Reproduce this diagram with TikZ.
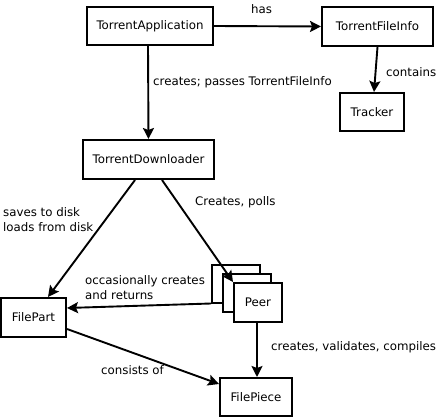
\documentclass[tikz,border=0pt]{standalone}
\usepackage{fontspec}
\setmainfont{DejaVu Sans}
\usetikzlibrary{arrows.meta}
\begin{document}
\begin{tikzpicture}[x=1pt,y=-1pt,
  box/.style={draw,line width=2pt,fill=white,inner sep=0pt,font=\fontsize{11.8}{14}\selectfont},
  lbl/.style={inner sep=0pt,anchor=west,align=left,font=\fontsize{11.8}{15.5}\selectfont},
  arr/.style={line width=1.9pt,-{Stealth[length=11pt,width=11pt,inset=2pt]}}]
\useasboundingbox (0,0) rectangle (437,417);
\node[box,minimum width=126pt,minimum height=38pt] (TA) at (150,26) {TorrentApplication};
\node[box,minimum width=111pt,minimum height=39pt] (TFI) at (377.5,26.5) {TorrentFileInfo};
\node[box,minimum width=64pt,minimum height=38pt] (TR) at (372,112) {Tracker};
\node[box,minimum width=131pt,minimum height=39pt] (TD) at (148.5,159.5) {TorrentDownloader};
\node[box,minimum width=65pt,minimum height=39pt] (FP) at (33.5,317.5) {FilePart};
\node[box,minimum width=48pt,minimum height=37pt] (PB) at (236,284) {};
\node[box,minimum width=48pt,minimum height=38pt] (PM) at (246.5,293) {};
\node[box,minimum width=48pt,minimum height=39pt] (PF) at (258,302.5) {Peer};
\node[box,minimum width=72pt,minimum height=38pt] (FPc) at (256,397) {FilePiece};

\draw[arr] (TA.east) -- (TFI.west);
\draw[arr] ([xshift=-2pt]TA.south) -- (TD.north);
\draw[arr] (TFI.south) -- ([xshift=2pt]TR.north);
\draw[arr] ([xshift=-13.5pt]TD.south) -- ([xshift=14.5pt]FP.north);
\draw[arr] ([xshift=13.5pt]TD.south) -- (PF.north west);
\draw[arr] (PB.south west) -- ([yshift=9.5pt]FP.east);
\draw[arr] ([xshift=-1pt]PF.south) -- ([xshift=1pt]FPc.north);
\draw[arr] ([yshift=-11.5pt]FP.east) -- ([yshift=13pt]FPc.west);

\node[lbl] (l1) at (251,9) {has};
\node[lbl] (l2) at (386,72) {contains};
\node[lbl] (l3) at (153,82) {creates; passes TorrentFileInfo};
\node[lbl] (l4) at (3,219.5) {saves to disk\\loads from disk};
\node[lbl] (l5) at (195,202.5) {Creates, polls};
\node[lbl] (l6) at (85,287.5) {occasionally creates\\and returns};
\node[lbl] (l7) at (271,347) {creates, validates, compiles};
\node[lbl] (l8) at (101,370.5) {consists of};
\end{tikzpicture}
\end{document}
